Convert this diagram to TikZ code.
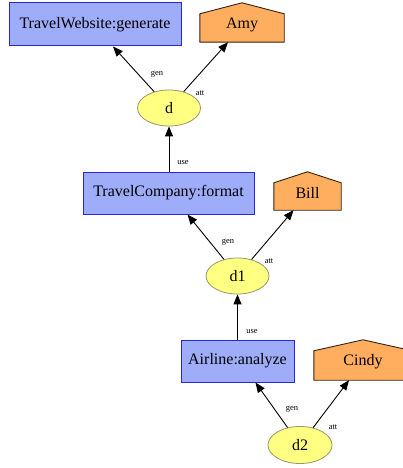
\documentclass[tikz,border=0pt]{standalone}
\usepackage{fontspec}
\setmainfont{Liberation Serif}
\usetikzlibrary{shapes.geometric,arrows.meta,backgrounds}
\definecolor{boxfill}{RGB}{158,172,250}
\definecolor{boxline}{RGB}{40,40,215}
\definecolor{housefill}{RGB}{255,174,96}
\definecolor{houseline}{RGB}{50,35,20}
\definecolor{ellfill}{RGB}{255,255,130}
\definecolor{ellline}{RGB}{150,150,110}
\tikzset{
  actbox/.style={rectangle, draw=boxline, fill=boxfill, line width=1pt, inner sep=0pt, font=\fontsize{16}{18}\selectfont},
  agent/.style={rectangle, draw=none, inner sep=0pt, font=\fontsize{16}{18}\selectfont},
  housepath/.style={draw=houseline, fill=housefill, line width=0.9pt},
  ent/.style={ellipse, draw=ellline, fill=ellfill, line width=0.8pt, inner sep=0pt, font=\fontsize{16}{18}\selectfont},
  rel/.style={-{Triangle[length=10pt,width=8pt]}, line width=0.9pt, black},
  lab/.style={font=\fontsize{8.5}{9}\selectfont, inner sep=0pt}
}
\begin{document}
\begin{tikzpicture}[x=1pt,y=-1pt]
\useasboundingbox (0,0) rectangle (403,468);
% activities
\node[actbox, minimum width=172pt, minimum height=43pt] (tw) at (95,24.5) {TravelWebsite:generate};
\node[actbox, minimum width=171pt, minimum height=42pt] (tc) at (168.5,193) {TravelCompany:format};
\node[actbox, minimum width=113pt, minimum height=42pt] (al) at (237.5,361) {Airline:analyze};
% agents
\node[agent, minimum width=84pt, minimum height=39pt] (amy) at (242,22.5) {};
\node[agent, minimum width=67pt, minimum height=38pt] (bill) at (307.5,191) {};
\node[agent, minimum width=98pt, minimum height=40pt] (cindy) at (363,360) {};
\begin{scope}[on background layer]
\foreach \n in {amy,bill,cindy}
  \path[housepath] (\n.south west) -- (\n.south east) -- ([yshift=-11pt]\n.north east) -- (\n.north) -- ([yshift=-11pt]\n.north west) -- cycle;
\end{scope}
\node[agent] (amyt) at ([yshift=-2pt]amy.center) {Amy};
\node[agent] (billt) at ([yshift=-2pt]bill.center) {Bill};
\node[agent] (cindyt) at ([yshift=-2pt]cindy.center) {Cindy};
% entities
\node[ent, minimum width=63pt, minimum height=36pt] (d) at (169,108) {d};
\node[ent, minimum width=63pt, minimum height=36pt] (d1) at (237.5,276) {d1};
\node[ent, minimum width=64pt, minimum height=37pt] (d2) at (300,445) {d2};
% edges
\draw[rel] (d) -- ([xshift=18pt]tw.south);
\draw[rel] (d) -- ([xshift=-14pt]amy.south);
\draw[rel] (tc.north -| d.south) -- (d.south);
\draw[rel] (d1) -- ([xshift=19pt]tc.south);
\draw[rel] (d1) -- ([xshift=-14pt]bill.south);
\draw[rel] (al.north -| d1.south) -- (d1.south);
\draw[rel] (d2) -- ([xshift=18pt]al.south);
\draw[rel] (d2) -- ([xshift=-14pt]cindy.south);
% labels
\node[lab] (g1) at (157,74) {gen};
\node[lab] (a1) at (200,93) {att};
\node[lab] (u1) at (183,163) {use};
\node[lab] (g2) at (228,242) {gen};
\node[lab] (a2) at (269,261) {att};
\node[lab] (u2) at (252,332) {use};
\node[lab] (g3) at (292,409) {gen};
\node[lab] (a3) at (333,427) {att};
\end{tikzpicture}
\end{document}
